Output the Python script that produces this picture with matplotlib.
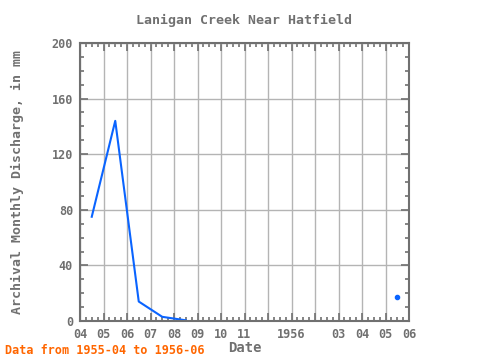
import matplotlib
matplotlib.use('Agg')
import matplotlib.pyplot as plt
import numpy as np
import pandas as pd

# monthly values (NaN = no data)
months = ['1955-04', '1955-05', '1955-06', '1955-07', '1955-08', '1955-09',
          '1955-10', '1955-11', '1955-12', '1956-01', '1956-02', '1956-03',
          '1956-04', '1956-05']
discharge = [75, 144, 14, 3, 0.5, np.nan, np.nan, np.nan, np.nan, np.nan,
             np.nan, np.nan, np.nan, 17.5]
tick_labels = ['04', '05', '06', '07', '08', '09', '10', '11', '', '1956',
               '', '03', '04', '05', '06']

per = pd.PeriodIndex(months, freq='M')
x = (per - per[0]).map(lambda d: d.n).to_numpy() + 0.5
y = np.array(discharge, dtype=float)

# points with no neighbour on either side get a marker
ok = ~np.isnan(y)
prev_ok = np.r_[False, ok[:-1]]
next_ok = np.r_[ok[1:], False]
lone = ok & ~prev_ok & ~next_ok

gray = '#707070'
blue = '#0a64ff'
mono = 'DejaVu Sans Mono'

fig = plt.figure(figsize=(4.8, 3.6), dpi=100)
ax = fig.add_axes([80/480, 39/360, 329/480, 278/360])

ax.plot(x, y, color=blue, lw=1.5)
ax.plot(x[lone], y[lone], ls='none', marker='o', ms=3, color=blue)

ax.set_xlim(0, 14)
ax.set_ylim(0, 200)
ax.set_xticks(np.arange(15))
ax.set_xticklabels(tick_labels)
ax.set_xticks(np.arange(0, 14, 0.25), minor=True)
ax.set_yticks(np.arange(0, 201, 40))
ax.set_yticks(np.arange(0, 201, 10), minor=True)

ax.grid(True, which='major', color='#b4b4b4', lw=1)
ax.tick_params(which='both', direction='in', top=True, right=True,
               color=gray, labelcolor=gray, labelsize=8.5, width=1.2)
ax.tick_params(which='major', length=6, pad=5)
ax.tick_params(which='minor', length=3)
for lab in ax.get_xticklabels() + ax.get_yticklabels():
    lab.set_family(mono)
    lab.set_fontweight('bold')
for s in ax.spines.values():
    s.set_color(gray)
    s.set_linewidth(1.5)

ax.set_title('Lanigan Creek Near Hatfield', family=mono, fontsize=9.5,
             color=gray, pad=14, fontweight='bold')
ax.set_xlabel('Date', family=mono, fontsize=10, color=gray,
              fontweight='bold', labelpad=0)
ax.set_ylabel('Archival Monthly Discharge, in mm', family=mono,
              fontsize=9.5, color=gray, labelpad=20, fontweight='bold')
fig.text(5/480, 3/360, 'Data from 1955-04 to 1956-06', family=mono,
         fontsize=8.5, color='#ff6600', fontweight='bold', va='bottom')

fig.savefig('out.png', dpi=100)
